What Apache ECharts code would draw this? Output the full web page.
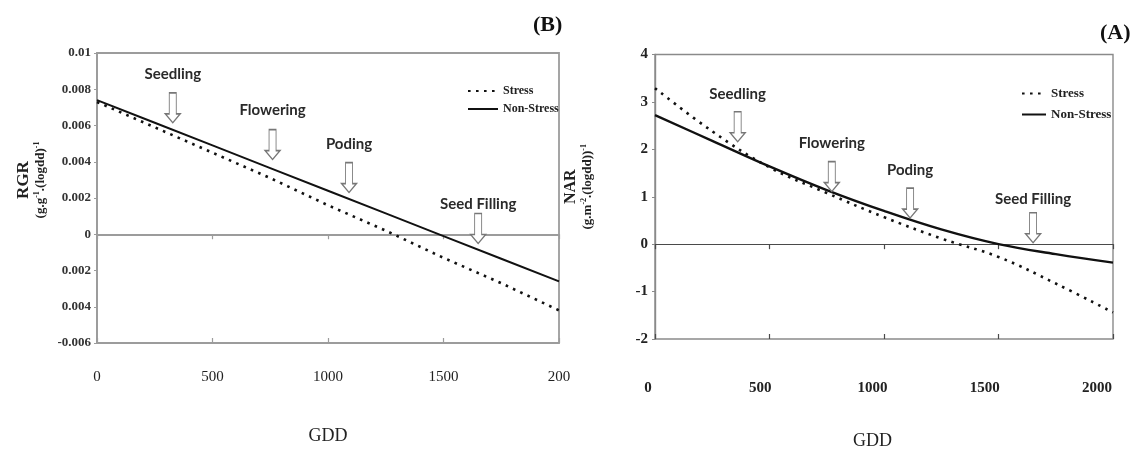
<!DOCTYPE html>
<html>
<head>
<meta charset="utf-8">
<script src="https://cdn.jsdelivr.net/npm/echarts@6/dist/echarts.min.js"></script>
<style>
  html, body { margin: 0; padding: 0; background: #fff; }
  #chart { width: 1130px; height: 456px; }
</style>
</head>
<body>
<div id="chart"></div>
<script>
// growing degree days at which both fitted curves are sampled
const gdd = [0, 250, 500, 750, 1000, 1250, 1500, 1750, 2000];

// (B) relative growth rate
const rgrStress    = [0.0073, 0.0059, 0.0045, 0.0031, 0.0016, 0.0002, -0.0013, -0.0027, -0.0042];
const rgrNonStress = [0.0074, 0.00615, 0.0049, 0.00365, 0.0024, 0.00115, -0.0001, -0.00135, -0.0026];

// (A) net assimilation rate
const narStress    = [3.29, 2.38, 1.62, 1.08, 0.57, 0.12, -0.27, -0.83, -1.44];
const narNonStress = [2.72, 2.18, 1.64, 1.14, 0.70, 0.31, 0.0, -0.21, -0.39];

// growth stages: GDD and value where each arrow points
const stages = ['Seedling', 'Flowering', 'Poding', 'Seed Filling'];
const rgrStageGdd = [328, 760, 1091, 1650];
const rgrStageTip = [0.00615, 0.00412, 0.0023, -0.00051];
const narStageGdd = [361, 772, 1114, 1651];
const narStageTip = [2.16, 1.11, 0.55, 0.03];

// tick labels, listed from the axis minimum upwards
const gddTicksB = ['0', '500', '1000', '1500', '200'];
const gddTicksA = ['0', '500', '1000', '1500', '2000'];
const rgrTicks  = ['-0.006', '0.004', '0.002', '0', '0.002', '0.004', '0.006', '0.008', '0.01'];
const narTicks  = ['-2', '-1', '0', '1', '2', '3', '4'];

const SERIF = 'Liberation Serif';
const pairs = (xs, ys) => xs.map((x, i) => [x, ys[i]]);
const tickText = (labels, min, step) => v => labels[Math.round((v - min) / step)];

// hollow down arrow, tip at the bottom centre
const ARROW = 'path://M4,0 L11,0 L11,21 L15,21 L7.5,30 L0,21 L4,21 Z';
function stageMarks(gdds, tips, gaps) {
  return {
    symbol: ARROW,
    symbolSize: [15, 30],
    symbolOffset: [0, '-50%'],
    itemStyle: { color: '#fff', borderColor: '#777', borderWidth: 1.2 },
    label: {
      show: true, position: 'top', formatter: '{b}',
      fontFamily: 'Lato', fontWeight: 'bold', fontSize: 15, color: '#2a2a2a'
    },
    data: stages.map((s, i) => ({
      name: s, coord: [gdds[i], tips[i]], label: { distance: gaps[i] }
    }))
  };
}

const dotted = { color: '#111', width: 2.6, type: [2.6, 5.4] };
const solid  = { color: '#111', width: 2 };

const supRich = (size) => ({
  a: { fontFamily: SERIF, fontWeight: 'bold', fontSize: size, lineHeight: 18, color: '#222' },
  b: { fontFamily: SERIF, fontWeight: 'bold', fontSize: 13, lineHeight: 16, color: '#222' },
  s: { fontFamily: SERIF, fontWeight: 'bold', fontSize: 8, lineHeight: 16, verticalAlign: 'top', color: '#222' }
});

// x axes: a line with crossing ticks on the zero level, plus a label row at the bottom
function zeroAxes(grid, color, width) {
  const base = {
    gridIndex: grid, type: 'value', min: 0, max: 2000, interval: 500, position: 'bottom',
    axisLabel: { show: false }, splitLine: { show: false }
  };
  return [
    Object.assign({}, base, {
      axisLine: { show: true, onZero: true, lineStyle: { color, width } },
      axisTick: { show: true, length: 5, lineStyle: { color, width: 1.2 } }
    }),
    Object.assign({}, base, {
      axisLine: { show: false, onZero: true },
      axisTick: { show: true, inside: true, length: 5, lineStyle: { color, width: 1.2 } }
    })
  ];
}
function labelAxis(grid, labels, margin, gap, weight) {
  return {
    gridIndex: grid, type: 'value', min: 0, max: 2000, interval: 500, position: 'bottom',
    axisLine: { show: false, onZero: false }, axisTick: { show: false }, splitLine: { show: false },
    axisLabel: {
      margin, formatter: tickText(labels, 0, 500),
      fontFamily: SERIF, fontWeight: weight, fontSize: 15, color: '#222'
    },
    name: 'GDD', nameLocation: 'middle', nameGap: gap,
    nameTextStyle: { fontFamily: SERIF, fontSize: 18, color: '#222' }
  };
}

const chart = echarts.init(document.getElementById('chart'));
chart.setOption({
  animation: false,
  backgroundColor: '#fff',
  color: ['#111', '#111'],
  title: [
    { text: '(B)', left: 528, top: 9, textStyle: { fontFamily: SERIF, fontWeight: 'bold', fontSize: 22, color: '#111' } },
    { text: '(A)', left: 1095, top: 17, textStyle: { fontFamily: SERIF, fontWeight: 'bold', fontSize: 22, color: '#111' } }
  ],
  legend: [
    {
      orient: 'vertical', left: 462, top: 80, itemWidth: 30, itemHeight: 14, itemGap: 6,
      selectedMode: false, data: ['Stress', 'Non-Stress'],
      itemStyle: { opacity: 0 },
      textStyle: { fontFamily: SERIF, fontWeight: 'bold', fontSize: 12, color: '#222' }
    },
    {
      orient: 'vertical', left: 1016, top: 82, itemWidth: 24, itemHeight: 14, itemGap: 8,
      selectedMode: false, data: ['Stress', 'Non-Stress'],
      itemStyle: { opacity: 0 },
      textStyle: { fontFamily: SERIF, fontWeight: 'bold', fontSize: 13, color: '#222' }
    }
  ],
  grid: [
    { left: 97, top: 53, width: 462, height: 290, show: true, borderColor: '#9c9c9c', borderWidth: 1.8 },
    { left: 655, top: 54.5, width: 458, height: 284.5, show: true, borderColor: '#8a8a8a', borderWidth: 1.4 },
    { left: 648, top: 54.5, width: 449, height: 284.5, show: false }
  ],
  xAxis: [
    ...zeroAxes(0, '#9c9c9c', 1.8),
    labelAxis(0, gddTicksB, 27, 84, 'normal'),
    ...zeroAxes(1, '#4a4a4a', 1.2),
    labelAxis(2, gddTicksA, 42, 93, 'bold')
  ],
  yAxis: [
    {
      gridIndex: 0, type: 'value', min: -0.006, max: 0.01, interval: 0.002,
      axisLine: { show: true, onZero: false, lineStyle: { color: '#9c9c9c', width: 1.8 } },
      axisTick: { show: true, length: 3, lineStyle: { color: '#9c9c9c' } },
      splitLine: { show: false },
      axisLabel: {
        margin: 6, formatter: tickText(rgrTicks, -0.006, 0.002),
        fontFamily: SERIF, fontWeight: 'bold', fontSize: 13, color: '#333'
      },
      name: '{a|RGR}\n{b|(g.g}{s|-1}{b|.(logdd)}{s|-1}',
      nameLocation: 'middle', nameRotate: 90, nameGap: 48,
      nameTextStyle: { rich: supRich(17), padding: [0, 0, 0, 36] }
    },
    {
      gridIndex: 1, type: 'value', min: -2, max: 4, interval: 1,
      axisLine: { show: true, onZero: false, lineStyle: { color: '#8a8a8a', width: 1.4 } },
      axisTick: { show: true, length: 3, lineStyle: { color: '#8a8a8a' } },
      splitLine: { show: false },
      axisLabel: {
        margin: 7, formatter: tickText(narTicks, -2, 1), padding: [0, 0, 12, 0],
        fontFamily: SERIF, fontWeight: 'bold', fontSize: 15, color: '#222'
      },
      name: '{a|NAR}\n{b|(g.m}{s|-2}{b|.(logdd))}{s|-1}',
      nameLocation: 'middle', nameRotate: 90, nameGap: 59,
      nameTextStyle: { rich: supRich(16), padding: [0, 0, 0, 20] }
    },
    { gridIndex: 2, type: 'value', min: 0, max: 1, show: false }
  ],
  series: [
    {
      name: 'Stress', type: 'line', xAxisIndex: 0, yAxisIndex: 0,
      data: pairs(gdd, rgrStress), symbol: 'none', lineStyle: dotted, z: 3
    },
    {
      name: 'Non-Stress', type: 'line', xAxisIndex: 0, yAxisIndex: 0,
      data: pairs(gdd, rgrNonStress), symbol: 'none', lineStyle: solid, z: 3,
      markPoint: stageMarks(rgrStageGdd, rgrStageTip, [10, 11, 10, 1])
    },
    {
      name: 'Stress', type: 'line', xAxisIndex: 3, yAxisIndex: 1,
      data: pairs(gdd, narStress), symbol: 'none', smooth: 0.4, lineStyle: dotted, z: 3
    },
    {
      name: 'Non-Stress', type: 'line', xAxisIndex: 3, yAxisIndex: 1,
      data: pairs(gdd, narNonStress), symbol: 'none', smooth: 0.4,
      lineStyle: { color: '#111', width: 2.4 }, z: 3,
      markPoint: stageMarks(narStageGdd, narStageTip, [9, 10, 10, 5])
    }
  ]
});
</script>
</body>
</html>
